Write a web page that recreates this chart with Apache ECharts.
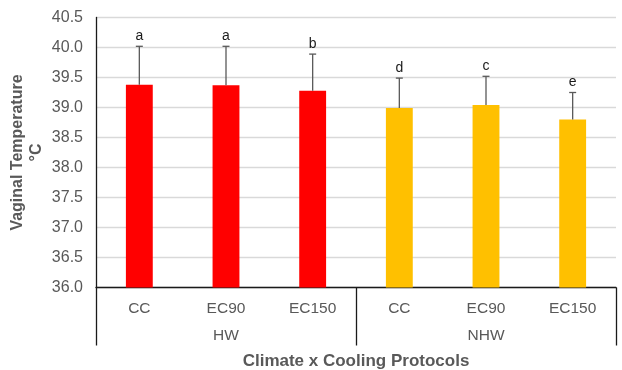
<!DOCTYPE html>
<html>
<head>
<meta charset="utf-8">
<script src="https://cdn.jsdelivr.net/npm/echarts@6/dist/echarts.min.js"></script>
<style>html,body{margin:0;padding:0;background:#fff;}#c{width:622px;height:370px;}</style>
</head>
<body>
<div id="c"></div>
<script>
var categories = ['CC', 'EC90', 'EC150', 'CC', 'EC90', 'EC150'];
var groups = ['HW', 'NHW'];
var means = [39.38, 39.37, 39.28, 38.99, 39.04, 38.80];
var errTops = [40.02, 40.02, 39.89, 39.49, 39.52, 39.25];
var letters = ['a', 'a', 'b', 'd', 'c', 'e'];
var barColors = ['#FF0000', '#FF0000', '#FF0000', '#FFC000', '#FFC000', '#FFC000'];
var yTicks = { min: 36.0, max: 40.5, interval: 0.5 };

var font = 'Liberation Sans, Arial, sans-serif';
var chart = echarts.init(document.getElementById('c'), null, { renderer: 'canvas' });

var errData = means.map(function (m, i) { return [i, m, errTops[i]]; });

chart.setOption({
  animation: false,
  grid: { left: 96, right: 6, top: 17.5, bottom: 82.5, containLabel: false, outerBoundsMode: 'none' },
  xAxis: [{
    type: 'category',
    data: categories,
    position: 'bottom',
    axisLine: { show: true, lineStyle: { color: '#1a1a1a', width: 1.3 } },
    axisTick: { show: false },
    axisLabel: { color: '#595959', fontSize: 15.5, fontFamily: font, margin: 13 },
    name: 'Climate x Cooling Protocols',
    nameLocation: 'middle',
    nameGap: 65,
    nameMoveOverlap: false,
    nameTextStyle: { color: '#595959', fontSize: 17, fontWeight: 'bold', fontFamily: font }
  }, {
    type: 'category',
    data: groups,
    position: 'bottom',
    gridIndex: 0,
    axisLine: { show: false },
    axisTick: { show: true, inside: false, length: 58, lineStyle: { color: '#1a1a1a', width: 1.3 } },
    axisLabel: { color: '#595959', fontSize: 15.5, fontFamily: font, margin: 40 }
  }],
  yAxis: {
    type: 'value',
    min: yTicks.min, max: yTicks.max, interval: yTicks.interval,
    axisLine: { show: true, lineStyle: { color: '#1a1a1a', width: 1.3 } },
    axisTick: { show: false },
    splitLine: { lineStyle: { color: '#D9D9D9', width: 1.3 } },
    axisLabel: { color: '#595959', fontSize: 16, fontFamily: font, margin: 13,
      formatter: function (v) { return v.toFixed(1); } },
    name: 'Vaginal Temperature\n°C',
    nameLocation: 'middle',
    nameGap: 50,
    nameMoveOverlap: false,
    nameRotate: 90,
    nameTextStyle: { color: '#595959', fontSize: 16, fontWeight: 'bold', fontFamily: font, lineHeight: 19 }
  },
  series: [{
    type: 'bar',
    xAxisIndex: 0,
    barWidth: '31%',
    data: means.map(function (m, i) { return { value: m, itemStyle: { color: barColors[i] } }; }),
    z: 2
  }, {
    type: 'custom',
    xAxisIndex: 0,
    data: errData,
    z: 3,
    renderItem: function (params, api) {
      var i = api.value(0);
      var base = api.coord([i, api.value(1)]);
      var top = api.coord([i, api.value(2)]);
      return {
        type: 'group',
        children: [{
          type: 'line',
          shape: { x1: base[0], y1: base[1], x2: top[0], y2: top[1] },
          style: { stroke: '#595959', lineWidth: 1.3 }
        }, {
          type: 'line',
          shape: { x1: top[0] - 3.5, y1: top[1], x2: top[0] + 3.5, y2: top[1] },
          style: { stroke: '#595959', lineWidth: 1.3 }
        }, {
          type: 'text',
          style: {
            text: letters[params.dataIndex],
            x: top[0], y: top[1] - 3,
            align: 'center', verticalAlign: 'bottom',
            fill: '#1a1a1a', fontSize: 14, fontFamily: font
          }
        }]
      };
    }
  }]
});
</script>
</body>
</html>
